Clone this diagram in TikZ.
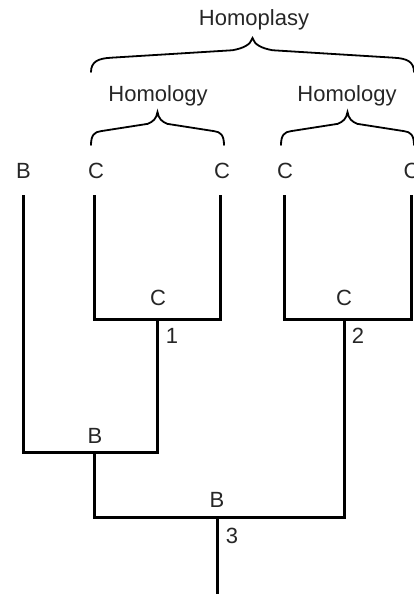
\documentclass[tikz,border=0pt]{standalone}
\usepackage{fontspec}
\setmainfont{Liberation Sans}
\begin{document}
\begin{tikzpicture}[x=1pt,y=-1pt,
  lbl/.style={font=\fontsize{22}{26}\selectfont, inner sep=0pt, text=black!85},
  branch/.style={line width=3pt, line cap=rect, line join=miter},
  bracestyle/.style={line width=1.8pt, line cap=round}]
\useasboundingbox (0,0) rectangle (414,594);
\newcommand\cbrace[5]{%
  \draw[bracestyle] (#1,#3) .. controls (#1,#3-0.3*#3+0.3*#4) and (#1+0.35*#5,#3-0.4*#3+0.4*#4) .. (#1+#5,#3-0.42*#3+0.42*#4)
   -- ({(#1+#2)/2-#5},#3-0.64*#3+0.64*#4)
   .. controls ({(#1+#2)/2-0.45*#5},#3-0.7*#3+0.7*#4) and ({(#1+#2)/2-0.1*#5},#3-0.8*#3+0.8*#4) .. ({(#1+#2)/2},#4)
   .. controls ({(#1+#2)/2+0.1*#5},#3-0.8*#3+0.8*#4) and ({(#1+#2)/2+0.45*#5},#3-0.7*#3+0.7*#4) .. ({(#1+#2)/2+#5},#3-0.64*#3+0.64*#4)
   -- (#2-#5,#3-0.42*#3+0.42*#4)
   .. controls (#2-0.35*#5,#3-0.4*#3+0.4*#4) and (#2,#3-0.3*#3+0.3*#4) .. (#2,#3);}
% braces
\cbrace{91}{414}{72}{38}{20}
\cbrace{91}{224}{145}{112}{10}
\cbrace{281}{414}{145}{112}{10}
\node[lbl] (hp) at (254,20) {Homoplasy};
\node[lbl] (hl1) at (158,96) {Homology};
\node[lbl] (hl2) at (347,96) {Homology};
% leaf labels
\node[lbl] (L1) at (23.5,171) {B};
\node[lbl] (L2) at (96,171) {C};
\node[lbl] (L3) at (222,171) {C};
\node[lbl] (L4) at (285,171) {C};
\node[lbl] (L5) at (411.5,171) {C};
% tree coordinates
\coordinate (t1) at (23,196);
\coordinate (t2) at (94,196);
\coordinate (t3) at (220.5,196);
\coordinate (t4) at (284,196);
\coordinate (t5) at (411,196);
\coordinate (c1) at (157.5,319);
\coordinate (c2) at (344,319);
\coordinate (b1) at (94,452);
\coordinate (r) at (217,517);
\coordinate (rb) at (217,600);
% branches
\draw[branch] (t2) |- (c1) -| (t3);
\draw[branch] (t4) |- (c2) -| (t5);
\draw[branch] (t1) |- (b1);
\draw[branch] (c1) |- (b1);
\draw[branch] (b1) |- (r);
\draw[branch] (c2) |- (r);
\draw[branch] (r) -- (rb);
% internal labels
\node[lbl] (nc1) at (158,298) {C};
\node[lbl] (nc2) at (344,298) {C};
\node[lbl] (n1) at (172,336) {1};
\node[lbl] (n2) at (358,336) {2};
\node[lbl] (nb1) at (95,436) {B};
\node[lbl] (nb2) at (217,500) {B};
\node[lbl] (n3) at (232,536) {3};
\end{tikzpicture}
\end{document}
